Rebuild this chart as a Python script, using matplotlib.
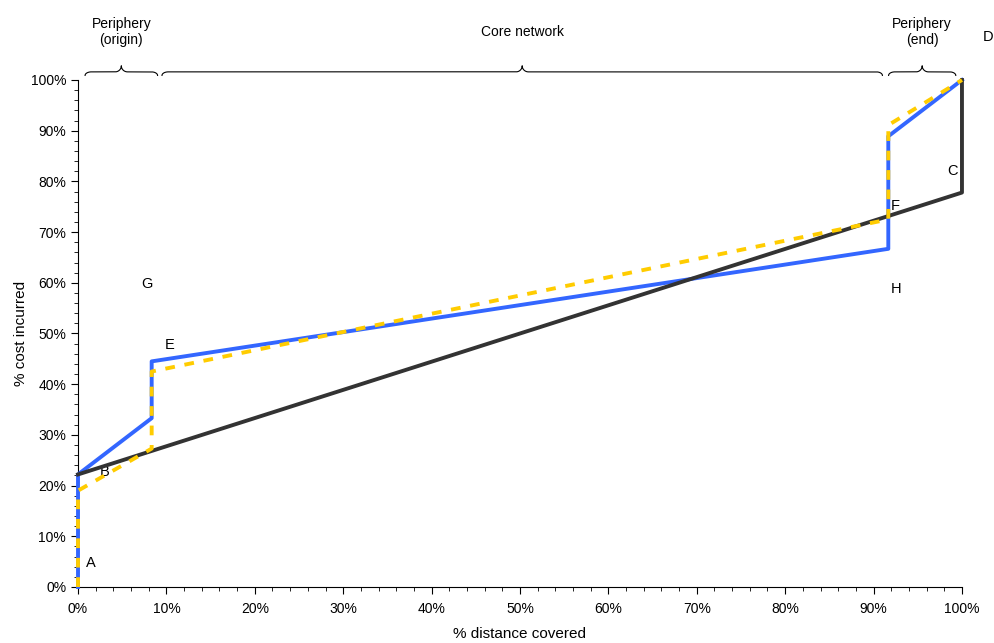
import numpy as np
import matplotlib.pyplot as plt
from matplotlib.ticker import MultipleLocator, PercentFormatter

plt.rcParams['font.family'] = ['Liberation Sans', 'DejaVu Sans']

# data (fractions of total)
blue_x = [0, 0, 1/12, 1/12, 11/12, 11/12, 1.0]
blue_y = [0, 0.222, 0.333, 0.445, 0.667, 0.889, 1.0]

black_x = [0, 1.0, 1.0]
black_y = [0.222, 0.778, 1.0]

yellow_x = [0, 0, 1/12, 1/12, 11/12, 11/12, 1.0]
yellow_y = [0, 0.19, 0.273, 0.425, 0.725, 0.911, 1.0]

point_labels = ['A', 'B', 'C', 'D', 'E', 'F', 'G', 'H']
point_x = [0.014, 0.03, 0.989, 1.03, 0.104, 0.925, 0.078, 0.926]
point_y = [0.047, 0.227, 0.82, 1.085, 0.477, 0.751, 0.598, 0.588]

sections = ['Periphery\n(origin)', 'Core network', 'Periphery\n(end)']
sec_start = [0.008, 0.095, 0.917]
sec_end = [0.09, 0.91, 0.993]

fig = plt.figure(figsize=(9.95, 6.43), dpi=100)
ax = fig.add_axes([0.0784, 0.0871, 0.8884, 0.7885])

ax.plot(blue_x, blue_y, color='#3366FF', lw=2.8, zorder=3, clip_on=False)
ax.plot(black_x, black_y, color='#333333', lw=2.8, zorder=4, clip_on=False)
ax.plot(yellow_x, yellow_y, color='#FFCC00', lw=2.8, ls=(0, (2.5, 2.5)), zorder=5, clip_on=False)

for lab, px, py in zip(point_labels, point_x, point_y):
    ax.text(px, py, lab, ha='center', va='center', fontsize=10.5, clip_on=False)

# curly braces above the plot
def brace(x0, x1, y0=1.016, h=0.012, hook=0.007):
    xm = (x0 + x1) / 2
    r = 0.007
    t = np.linspace(0, np.pi / 2, 20)
    lx = x0 + r - r * np.cos(t)
    ly = y0 - hook + hook * np.sin(t)
    mx = np.linspace(x0 + r, xm - r, 30)
    my = np.full_like(mx, y0)
    tx = xm - r + r * np.sin(t)
    ty = y0 + h * (1 - np.cos(t))
    xs = np.concatenate([lx, mx, tx])
    ys = np.concatenate([ly, my, ty])
    xs = np.concatenate([xs, (2 * xm - xs)[::-1]])
    ys = np.concatenate([ys, ys[::-1]])
    ax.plot(xs, ys, color='black', lw=0.8, clip_on=False)

for s, a, b in zip(sections, sec_start, sec_end):
    brace(a, b)
    ax.text((a + b) / 2, 1.095, s, ha='center', va='center', fontsize=10, clip_on=False)

ax.set_xlim(0, 1)
ax.set_ylim(0, 1)
ax.xaxis.set_major_locator(MultipleLocator(0.1))
ax.xaxis.set_minor_locator(MultipleLocator(0.02))
ax.yaxis.set_major_locator(MultipleLocator(0.1))
ax.yaxis.set_minor_locator(MultipleLocator(0.02))
ax.xaxis.set_major_formatter(PercentFormatter(1.0, decimals=0))
ax.yaxis.set_major_formatter(PercentFormatter(1.0, decimals=0))
ax.tick_params(which='major', length=5, labelsize=10)
ax.tick_params(which='minor', length=3)
ax.tick_params(axis='x', pad=6)
ax.spines['top'].set_visible(False)
ax.spines['right'].set_visible(False)
ax.set_xlabel('% distance covered', fontsize=11, labelpad=8)
ax.set_ylabel('% cost incurred', fontsize=11, labelpad=2)

fig.savefig('out.png', dpi=100)
